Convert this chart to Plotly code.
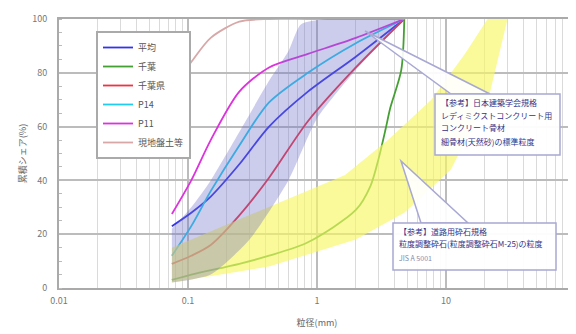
import plotly.graph_objects as go

# ---- data ----
sieve = [0.075, 0.106, 0.15, 0.25, 0.425, 0.85, 2.0, 4.75]
heikin = [23, 28, 34, 46, 60, 73, 86, 100]          # 平均
chibaken = [9, 12, 16, 27, 41, 62, 82, 100]         # 千葉県
p14 = [12, 23, 36, 53, 69, 80, 91, 100]             # P14
p11 = [27.5, 40, 55, 73, 82, 87, 93, 100]           # P11
genchi = [74, 84, 93, 99, 100, 100, 100, 100]       # 現地盤土等

chiba_x = [0.075, 0.106, 0.25, 0.425, 0.85, 2.0, 2.6, 3.0, 3.4, 3.7, 4.5, 4.75]
chiba_y = [3, 5, 9, 12, 17, 29, 38, 48, 59, 67, 81, 100]  # 千葉

# 細骨材 標準粒度 band
sand_up_x = [0.075, 0.106, 0.15, 0.25, 0.425, 0.6, 0.75, 1.2, 4.75]
sand_up_y = [22, 30, 40, 58, 77, 88, 98, 100, 100]
sand_lo_x = [0.075, 0.15, 0.3, 0.6, 1.0, 2.0, 4.75]
sand_lo_y = [2, 5, 18, 40, 63, 81, 100]

# 粒度調整砕石 band
rs_up_x = [0.075, 0.425, 1.65, 3.55, 7.7, 14, 21, 30]
rs_up_y = [15, 30, 42, 55, 70, 87, 100, 100]
rs_lo_x = [0.075, 0.425, 2.0, 4.75, 10.9, 22, 30]
rs_lo_y = [2, 8, 18, 28, 44, 73, 100]

x_ticks = [0.01, 0.1, 1, 10, 100]
x_tick_text = ["0.01", "0.1", "1", "10", "100\u2009\u2009\u2009"]
y_ticks = [0, 20, 40, 60, 80, 100]

FONT = "Noto Sans CJK JP"

series = [
    ("平均", sieve, heikin, "#3333ee"),
    ("千葉", chiba_x, chiba_y, "#44a032"),
    ("千葉県", sieve, chibaken, "#ee3344"),
    ("P14", sieve, p14, "#22ccee"),
    ("P11", sieve, p11, "#dd33dd"),
    ("現地盤土等", sieve, genchi, "#d8a8a8"),
]

fig = go.Figure()
for name, xs, ys, col in series:
    fig.add_trace(go.Scatter(x=xs, y=ys, name=name, mode="lines",
                             line=dict(color=col, width=1.8, shape="spline", smoothing=0.8)))

fig.add_trace(go.Scatter(x=rs_up_x + rs_lo_x[::-1], y=rs_up_y + rs_lo_y[::-1],
                         fill="toself", fillcolor="rgba(248,248,100,0.65)",
                         line=dict(width=0), mode="lines", showlegend=False, hoverinfo="skip"))
fig.add_trace(go.Scatter(x=sand_up_x + sand_lo_x[::-1], y=sand_up_y + sand_lo_y[::-1],
                         fill="toself", fillcolor="rgba(110,110,200,0.35)",
                         line=dict(width=0, shape="spline", smoothing=0.6), mode="lines",
                         showlegend=False, hoverinfo="skip"))

# plot area in pixels: left 51, right 567, top 11, bottom 280
def px(xp):
    return (xp - 51) / 516.0

def py(yp):
    return (280 - yp) / 269.0

border = "#a8a8d4"
shapes = []
# callout 1
shapes.append(dict(type="path", xref="paper", yref="paper", layer="above",
                   path=f"M{px(357)},{py(23)} L{px(443)},{py(86)} L{px(482)},{py(86)} Z",
                   fillcolor="rgba(255,255,255,0.92)", line=dict(color=border, width=1.5)))
shapes.append(dict(type="rect", xref="paper", yref="paper", layer="above",
                   x0=px(427), x1=px(552), y0=py(147), y1=py(86),
                   fillcolor="rgba(255,255,255,0.95)", line=dict(color=border, width=1.5)))
# callout 2
shapes.append(dict(type="path", xref="paper", yref="paper", layer="above",
                   path=f"M{px(393)},{py(153)} L{px(413)},{py(215)} L{px(460)},{py(215)} Z",
                   fillcolor="rgba(255,255,255,0.92)", line=dict(color=border, width=1.5)))
shapes.append(dict(type="rect", xref="paper", yref="paper", layer="above",
                   x0=px(385), x1=px(548), y0=py(262), y1=py(215),
                   fillcolor="rgba(255,255,255,0.95)", line=dict(color=border, width=1.5)))

ann = []
txt_col = "#333388"
box1 = ["【参考】日本建築学会規格", "レディミクストコンクリート用", "コンクリート骨材", "細骨材(天然砂)の標準粒度"]
for t, yy in zip(box1, [94, 107, 120, 133]):
    ann.append(dict(text=t, xref="paper", yref="paper", x=px(431), y=py(yy), xanchor="left",
                    yanchor="middle", showarrow=False, font=dict(size=8, color=txt_col, family=FONT)))
box2 = [("【参考】道路用砕石規格", 8, txt_col, 223),
        ("粒度調整砕石(粒度調整砕石M-25)の粒度", 8, txt_col, 235),
        ("JIS A 5001", 7, "#8888aa", 250)]
for t, s, c, yy in box2:
    ann.append(dict(text=t, xref="paper", yref="paper", x=px(389), y=py(yy), xanchor="left",
                    yanchor="middle", showarrow=False, font=dict(size=s, color=c, family=FONT)))

fig.update_layout(
    width=576, height=334,
    margin=dict(l=51, r=9, t=11, b=54, autoexpand=False),
    plot_bgcolor="white", paper_bgcolor="white",
    font=dict(family=FONT, size=9, color="#777"),
    shapes=shapes, annotations=ann,
    legend=dict(x=px(88), y=py(23), xanchor="left", yanchor="top",
                bgcolor="white", bordercolor="#aaaaaa", borderwidth=2,
                font=dict(size=9, color="#555", family=FONT), itemwidth=30,
                tracegroupgap=0),
    showlegend=True,
)
fig.update_xaxes(type="log", range=[-2, 2], tickvals=x_ticks, ticktext=x_tick_text,
                 automargin=False,
                 showgrid=True, gridcolor="#bcbcbc", gridwidth=1.5,
                 minor=dict(dtick="D1", showgrid=True, gridcolor="#dadada", gridwidth=1),
                 showline=True, linecolor="#aaaaaa", linewidth=2, mirror=True,
                 ticks="", ticklabelstandoff=3, zeroline=False,
                 title=dict(text="粒径(mm)", font=dict(size=9, color="#666"), standoff=14))
fig.update_yaxes(range=[0, 100], tickvals=y_ticks, automargin=False,
                 showgrid=True, gridcolor="#bcbcbc", gridwidth=1.5,
                 minor=dict(dtick=5, ticks="inside", ticklen=3, tickcolor="#bbbbbb", showgrid=False),
                 showline=True, linecolor="#aaaaaa", linewidth=2, mirror=True,
                 ticks="", ticklabelstandoff=8, zeroline=False,
                 title=dict(text="累積シェア(%)", font=dict(size=9, color="#666"), standoff=4))

fig.write_html("out.html")
